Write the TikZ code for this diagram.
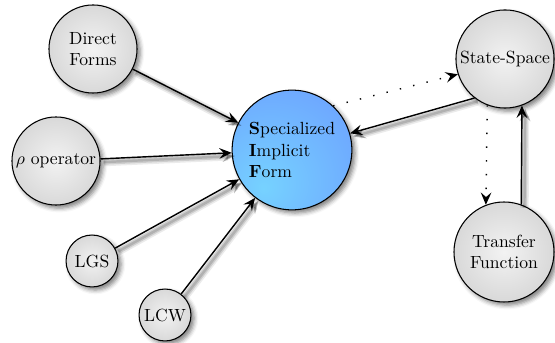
\documentclass[tikz,border=0pt]{standalone}
\usetikzlibrary{shadows.blur,arrows.meta}

\definecolor{sifin}{RGB}{118,210,255}
\definecolor{sifout}{RGB}{104,136,255}
% soft grey ball for the ordinary forms
\pgfdeclareradialshading{greyglow}{\pgfpointorigin}{color(0bp)=(gray!10); color(50bp)=(gray!50); color(100bp)=(gray!50)}
% blue ball, lit from the lower left
\pgfdeclareradialshading{sifglow}{\pgfpoint{-12bp}{-16bp}}{color(0bp)=(sifin); color(68bp)=(sifout); color(120bp)=(sifout)}

\tikzset{
  form/.style={circle, draw=black, line width=0.6pt, shading=greyglow,
    inner sep=1pt, align=center, font=\normalsize,
    blur shadow={shadow xshift=1.8pt, shadow yshift=-1.8pt, shadow blur radius=2.4pt, shadow opacity=50}},
  core/.style={form, shading=sifglow, align=left},
  tip/.style={-{Stealth[length=7pt,width=6pt,inset=2.6pt]}},
  link/.style={tip, line width=0.8pt,
    preaction={draw=black, opacity=0.08, line width=4.8pt, transform canvas={shift={(1.8pt,-1.8pt)}}},
    preaction={draw=black, opacity=0.12, line width=3pt, transform canvas={shift={(1.8pt,-1.8pt)}}},
    preaction={draw=black, opacity=0.14, line width=1.4pt, transform canvas={shift={(1.8pt,-1.8pt)}}}},
  hint/.style={tip, line width=0.8pt, dash pattern=on 0.8pt off 7pt},
}

\begin{document}
\begin{tikzpicture}[x=0.568pt, y=-0.568pt]
  \useasboundingbox (0,0) rectangle (555,343);

  \node[form, minimum size=50pt]   (df)  at (93,49)   {Direct\\Forms};
  \node[form, minimum size=50pt]   (rho) at (56,161)  {$\rho$ operator};
  \node[form, minimum size=29.5pt] (lgs) at (92,261)  {LGS};
  \node[form, minimum size=29.5pt] (lcw) at (165,315) {LCW};
  \node[core, minimum size=68pt]   (sif) at (292,150)
    {\textbf{S}pecialized\\\textbf{I}mplicit\\\textbf{F}orm};
  \node[form, minimum size=55.7pt] (ss)  at (505,59)  {State-Space};
  \node[form, minimum size=56.8pt] (tf)  at (504,252) {Transfer\\Function};

  \draw[link] (df)  -- (sif);
  \draw[link] (rho) -- (sif);
  \draw[link] (lgs) -- (sif);
  \draw[link] (lcw) -- (sif);
  \draw[link] (ss.232) -- (sif.16);
  \draw[link] (tf.70) -- (ss.290);

  \draw[hint] (sif.47) -- (ss.198);
  \draw[hint] (ss.249) -- (tf.111);
\end{tikzpicture}
\end{document}
